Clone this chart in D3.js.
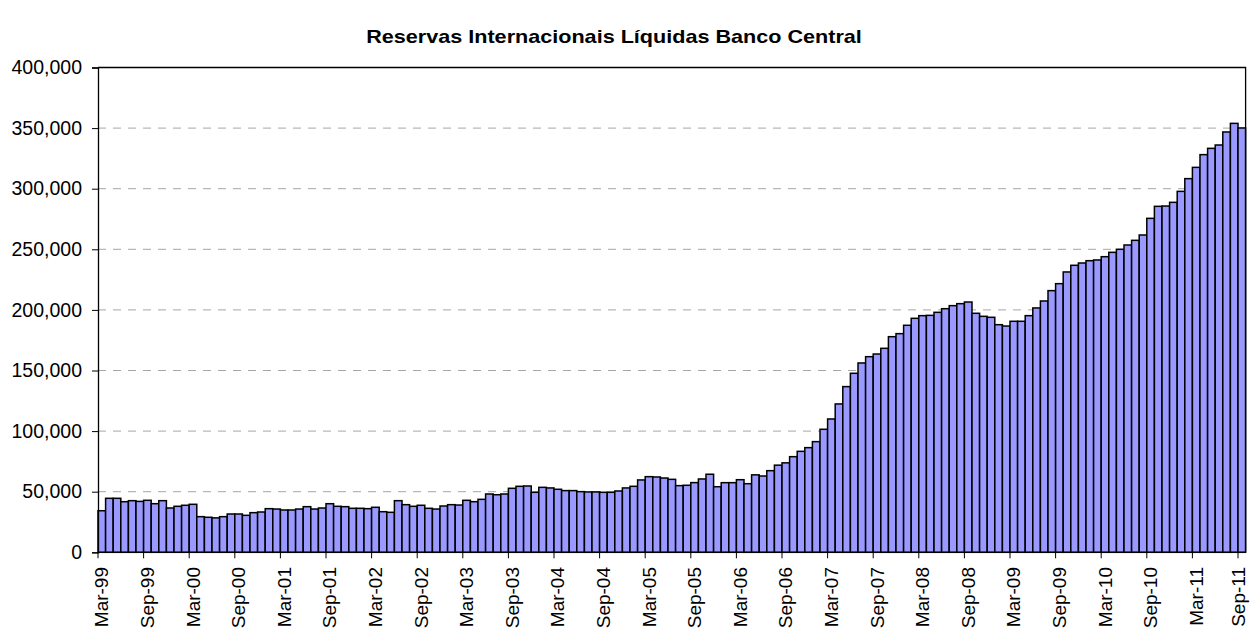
<!DOCTYPE html>
<html>
<head>
<meta charset="utf-8">
<script src="https://cdn.jsdelivr.net/npm/d3@7"></script>
<style>
  html, body { margin: 0; padding: 0; background: #fff; }
  svg { display: block; font-family: "Liberation Sans", Arial, sans-serif; }
</style>
</head>
<body>
<svg id="chart" width="1251" height="631"></svg>
<script>
// Reservas internacionais líquidas (US$ milhões), mensal, Mar-99 a Sep-11
const startMonth = new Date(1999, 2, 1);
const reserves = [
  34300, 44550, 44550, 41750, 42600, 42000, 42900, 40100, 42600, 36550,
  37950, 38800, 39600, 29400, 28900, 28400, 29400, 31600, 31600, 30500,
  32700, 33250, 36000, 35700, 34900, 34900, 35700, 37650, 35700, 36550,
  40100, 37950, 37650, 36300, 36300, 36000, 37130, 33500, 33000, 42600,
  39300, 37950, 38800, 36300, 35700, 38200, 39300, 39000, 42900, 41750,
  43700, 48100, 47500, 48100, 52800, 54450, 54700, 49500, 53600, 53100,
  52000, 50900, 50900, 50050, 49800, 49800, 49500, 49500, 50600, 53100,
  54450, 59700, 62400, 62150, 61300, 60200, 55000, 55300, 57500, 60500,
  64400, 54100, 57450, 57450, 59900, 56600, 63900, 62950, 67350, 71900,
  73800, 78900, 83300, 86350, 91300, 101500, 110000, 122400, 136700, 147700,
  156200, 161400, 163600, 168300, 177900, 180400, 187300, 193050, 195250, 195500,
  198000, 201000, 203500, 205150, 206500, 197200, 194700, 193900, 187800, 186700,
  190600, 190600, 195250, 201600, 207350, 215900, 221650, 231300, 236800, 238700,
  240600, 241200, 243900, 247500, 250000, 253550, 257400, 261800, 275550, 285450,
  285700, 288750, 297800, 308300, 317600, 328100, 333300, 336050, 346800, 353900,
  350100
];
const yTicks = [0, 50000, 100000, 150000, 200000, 250000, 300000, 350000, 400000];
const xTickLabels = [
  "Mar-99", "Sep-99", "Mar-00", "Sep-00", "Mar-01", "Sep-01", "Mar-02", "Sep-02",
  "Mar-03", "Sep-03", "Mar-04", "Sep-04", "Mar-05", "Sep-05", "Mar-06", "Sep-06",
  "Mar-07", "Sep-07", "Mar-08", "Sep-08", "Mar-09", "Sep-09", "Mar-10", "Sep-10",
  "Mar-11", "Sep-11"
];
const labelEvery = 6;
const title = "Reservas Internacionais Líquidas Banco Central";

const months = reserves.map((_, i) => d3.timeMonth.offset(startMonth, i));

const svg = d3.select("#chart");
const plot = { left: 98, right: 1245.6, top: 67.5, bottom: 552.3 };

const x = d3.scaleBand()
  .domain(months.map((_, i) => i))
  .range([plot.left, plot.right])
  .paddingInner(0)
  .paddingOuter(0);

const y = d3.scaleLinear()
  .domain([0, 400000])
  .range([plot.bottom, plot.top]);

// Title
svg.append("text")
  .attr("transform", `translate(614,43.3) scale(1.2,1)`)
  .attr("text-anchor", "middle")
  .attr("font-weight", "bold")
  .attr("font-size", 18)
  .attr("fill", "#000")
  .text(title);

// Dashed horizontal gridlines
svg.append("g")
  .selectAll("line")
  .data(yTicks.filter(v => v > 0 && v < 400000))
  .join("line")
  .attr("x1", plot.left)
  .attr("x2", plot.right)
  .attr("y1", d => y(d))
  .attr("y2", d => y(d))
  .attr("stroke", "#a6a6a6")
  .attr("stroke-width", 1)
  .attr("stroke-dasharray", "8,7");

// Bars
svg.append("g")
  .selectAll("rect")
  .data(reserves)
  .join("rect")
  .attr("x", (d, i) => x(i))
  .attr("y", d => y(d))
  .attr("width", x.bandwidth())
  .attr("height", d => y(0) - y(d))
  .attr("fill", "#9999ff")
  .attr("stroke", "#000")
  .attr("stroke-width", 1.5);

// Plot frame (top and right)
svg.append("path")
  .attr("d", `M${plot.left},${plot.top}H${plot.right}V${plot.bottom}`)
  .attr("fill", "none")
  .attr("stroke", "#000")
  .attr("stroke-width", 1.3);

// Y axis
const yAxis = svg.append("g")
  .attr("transform", `translate(${plot.left},0)`)
  .call(d3.axisLeft(y)
    .tickValues(yTicks)
    .tickFormat(d3.format(","))
    .tickSize(6)
    .tickPadding(10));
yAxis.select(".domain").attr("stroke", "#000").attr("stroke-width", 1.3);
yAxis.selectAll(".tick line").attr("stroke", "#000");
yAxis.selectAll("text")
  .attr("font-size", 19.5)
  .attr("font-family", "Liberation Sans, Arial, sans-serif")
  .attr("fill", "#000");

// X axis baseline
svg.append("line")
  .attr("x1", plot.left).attr("x2", plot.right)
  .attr("y1", plot.bottom).attr("y2", plot.bottom)
  .attr("stroke", "#000").attr("stroke-width", 1.3);

// X ticks at category boundaries every six months
const tickIdx = d3.range(0, reserves.length, labelEvery);
svg.append("g")
  .selectAll("line")
  .data(tickIdx)
  .join("line")
  .attr("x1", d => x(d))
  .attr("x2", d => x(d))
  .attr("y1", plot.bottom)
  .attr("y2", plot.bottom + 6)
  .attr("stroke", "#000")
  .attr("stroke-width", 1);

// X labels, centred on their month, rotated (kept inside the right edge)
svg.append("g")
  .selectAll("text")
  .data(tickIdx)
  .join("text")
  .attr("transform", d => `translate(${Math.min(x(d) + x.bandwidth() / 2 + 6.5, 1245)},567) rotate(-90)`)
  .attr("text-anchor", "end")
  .attr("font-size", 19)
  .attr("fill", "#000")
  .text((d, i) => xTickLabels[i]);
</script>
</body>
</html>
